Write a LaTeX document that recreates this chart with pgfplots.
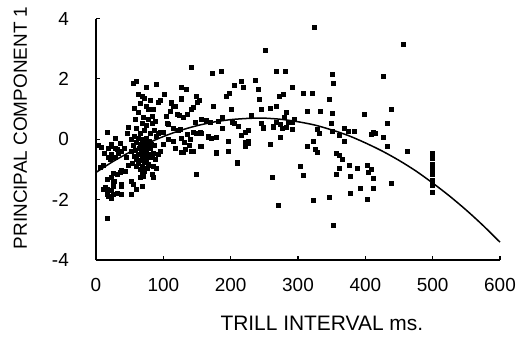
\documentclass[border=0pt]{standalone}
\usepackage{pgfplots}
\pgfplotsset{compat=1.18}
\usepackage{fontspec}
\setmainfont{Liberation Sans}
\begin{document}
\begin{tikzpicture}
\path[use as bounding box] (-96bp,-81bp) rectangle (432bp,260bp);
\begin{axis}[
  at={(0,0)}, anchor=south west,
  scale only axis, width=404bp, height=241.5bp,
  xmin=0, xmax=600, ymin=-4, ymax=4,
  axis lines*=left,
  axis line style={line width=1.5bp},
  tick align=inside,
  major tick length=4.5bp,
  every tick/.style={black, line width=1.1bp},
  xtick={0,100,200,300,400,500,600},
  xticklabels={0,100,200,300,400,500,600},
  ytick={-4,-2,0,2,4},
  yticklabels={-4,-2,0,2,4},
  tick label style={font=\fontsize{19}{21}\selectfont},
  xticklabel style={anchor=base, inner sep=0pt, yshift=-31.5bp},
  yticklabel style={anchor=east, inner sep=0pt, xshift=-27bp},
  xlabel={TRILL INTERVAL ms.},
  ylabel={PRINCIPAL COMPONENT 1},
  xlabel style={font=\fontsize{21}{23}\selectfont, at={(axis description cs:0.559,0)}, anchor=base, inner sep=0pt, yshift=-70bp},
  ylabel style={font=\fontsize{19}{21}\selectfont, at={(axis description cs:0,0.547)}, anchor=base, inner sep=0pt, yshift=69bp},
  clip=false,
]
\addplot[only marks, mark=square*, mark size=2bp, black] coordinates {
(16,0.22) (8,-0.25) (23,-0.15) (28,0.02) (36,-0.14) (28,-0.31) (33,-0.45) (18,-0.28) (23,-0.22) (31,-0.33)
(38,-0.39) (18,-0.58) (22,-0.5) (28,-0.6) (21,-0.66) (11,-0.86) (6,-0.94) (26,-1.13) (38,-1.02) (43,-1.05)
(36,-1.1) (31,-1.16) (23,-1.27) (16,-1.32) (27,-1.38) (26,-1.4) (13,-1.6) (11,-1.65) (16,-1.65) (23,-1.7)
(26,-1.54) (38,-1.54) (38,-1.5) (26,-1.82) (16,-1.82) (31,-1.78) (38,-1.82) (23,-1.96) (18,-1.9) (16,-2.6)
(48,0.41) (47,0.2) (42,-0.3) (45,-0.6) (48,-0.85) (12,-0.45) (3,-0.2)
(55,1.87) (60,1.93) (75,1.71) (89,1.82) (63,1.49) (68,1.43) (56,1.03) (74,1.10) (78,1.01) (70,0.74)
(78,0.68) (83,0.76) (58,0.65) (68,0.52) (75,0.46) (83,0.52) (60,0.37) (93,1.23) (96,1.29) (65,1.2)
(72,1.35) (80,1.3) (85,1.0) (62,0.9) (88,0.6) (66,0.2) (72,0.3) (80,0.2) (86,0.3) (90,0.1)
(57,0.1) (52,0.0)
(55,-0.2) (58,-0.35) (60,-0.1) (62,-0.5) (64,-0.3) (65,-0.7) (66,-0.15) (67,-0.45) (68,-0.9) (69,-0.6)
(70,-0.25) (70,-0.4) (71,-0.75) (72,-0.55) (73,-0.1) (74,-0.35) (75,-0.65) (76,-0.2) (77,-0.5) (78,-0.85)
(80,-0.3) (81,-0.6) (63,-0.8) (66,-1.0) (72,-1.05) (60,-0.65) (56,-0.55) (52,-0.4) (54,-0.8) (68,0.0)
(74,0.05) (79,-0.05) (82,-0.15) (85,-0.45) (87,-0.2) (63,0.05) (59,-0.9) (76,-0.95) (69,-1.15)
(83,-0.5) (88,-0.66) (78,-0.83) (85,-0.88) (53,-1.38) (65,-1.27) (70,-1.21) (85,-1.27) (83,-1.16) (55,-1.49)
(68,-1.54) (60,-1.65) (53,-1.82) (90,-0.95) (92,-0.5)
(95,0.22) (107,0.5) (125,0.33) (135,0.17) (145,0.22) (104,0.77) (106,0.52) (110,0.94) (120,0.83) (117,1.1)
(112,1.19) (127,1.32) (135,0.83) (145,1.07) (150,1.23) (127,1.71) (134,1.67) (101,1.48) (111,1.23) (115,1.10)
(126,1.35) (124,0.79) (130,0.74) (114,0.37) (122,0.30) (149,0.19) (93,0.19) (100,0.22) (142,2.40) (149,1.43)
(142,1.01) (107,0.0) (114,-0.05) (126,0.05) (131,-0.1) (138,-0.2) (140,0.0) (130,-0.44) (145,-0.39) (127,-0.44)
(132,-0.33) (142,-0.39) (149,-1.16) (100,-0.15) (96,-0.4) (118,-0.3)
(153,1.30) (155,0.25) (166,0.10) (178,-0.44) (196,-0.06) (196,-0.39) (209,-0.77) (222,-0.11) (226,-0.06) (258,-0.17)
(273,0.5) (283,0.39) (291,0.55) (249,0.39) (263,0.44) (173,2.18) (186,2.24) (194,1.41) (198,1.54) (205,1.79)
(216,1.93) (219,1.74) (236,1.96) (241,1.65) (242,1.32) (251,2.96) (268,2.27) (281,2.27) (292,1.72) (272,1.41)
(278,1.49) (307,1.54) (174,1.10) (201,0.98) (258,1.03) (268,1.10) (246,0.98) (283,0.90) (230,0.79)
(156,0.66) (164,0.63) (169,0.57) (182,0.60) (187,0.74) (147,0.57) (202,0.57) (205,0.52) (211,0.43) (188,0.37)
(246,0.52) (248,0.37) (263,0.39) (268,0.57) (277,0.35) (280,0.74) (286,0.57) (291,0.32) (294,0.68) (150,0.21)
(156,0.21) (167,0.08) (171,0.04) (178,0.08) (216,0.13) (221,0.24) (226,0.30) (273,0.08) (156,-0.24) (178,-0.45)
(221,-0.23) (226,-0.12) (210,-0.79) (261,-1.25) (271,-2.18) (155,-0.22)
(324,3.70) (456,3.15) (351,2.15) (353,1.87) (426,2.10) (308,1.53) (321,1.53) (346,1.32) (313,0.93) (333,0.93)
(351,0.87) (399,0.82) (439,0.98) (433,0.54) (349,0.54) (369,0.37) (374,0.26) (383,0.26) (329,0.32) (331,0.21)
(351,0.26) (412,0.22) (361,0.12) (408,0.17) (414,0.19) (426,0.06) (323,-0.07) (313,-0.23) (326,-0.34) (328,-0.42)
(368,-0.07) (433,-0.23) (462,-0.40) (357,-0.45) (361,-0.53) (365,-0.67) (304,-0.89) (308,-1.18) (357,-1.17) (361,-0.95)
(376,-0.85) (378,-1.22) (388,-0.95) (403,-0.85) (409,-1.0) (404,-1.08) (411,-1.29) (393,-1.62) (411,-1.62) (378,-1.79)
(438,-1.44) (403,-2.0) (346,-1.91) (323,-2.02) (353,-2.84)
(500,-0.45) (500,-0.63) (500,-0.81) (500,-0.99) (500,-1.17) (500,-1.35) (500,-1.53) (500,-1.75)
};
\addplot[black, line width=1.5bp, smooth] coordinates {
(0,-1.10) (25,-0.74) (50,-0.43) (75,-0.15) (100,0.09) (125,0.29) (150,0.45) (175,0.57) (200,0.65) (225,0.69)
(239,0.70) (250,0.70) (275,0.66) (300,0.58) (325,0.47) (350,0.31) (375,0.12) (400,-0.12) (425,-0.39) (450,-0.70)
(475,-1.05) (500,-1.45) (525,-1.88) (550,-2.35) (575,-2.86) (600,-3.41)
};
\end{axis}
\end{tikzpicture}
\end{document}
